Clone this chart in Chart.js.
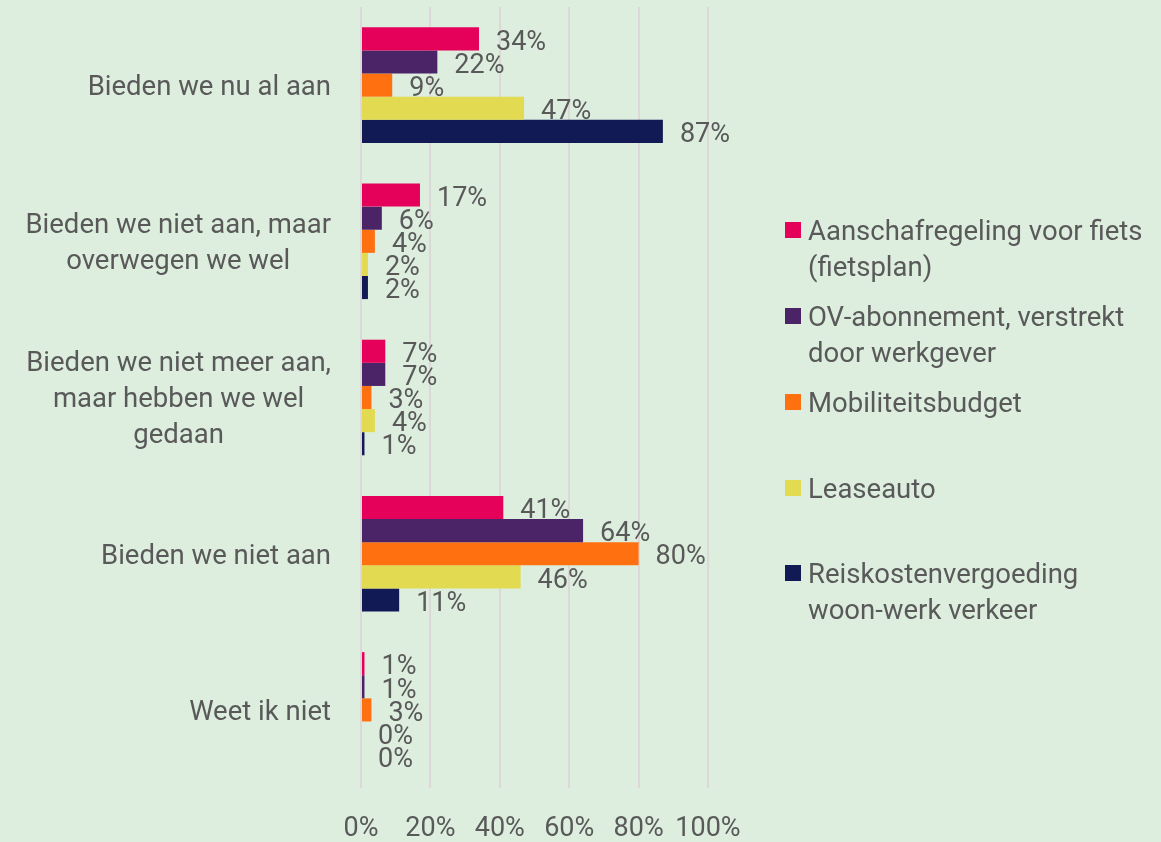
<!DOCTYPE html>
<html>
<head>
<meta charset="utf-8">
<script src="https://cdn.jsdelivr.net/npm/chart.js@4.4.1/dist/chart.umd.min.js"></script>
<style>
    html, body { margin: 0; padding: 0; background: #ddeedf; }
    #wrap { position: relative; width: 1161px; height: 842px; }
    #chart { position: absolute; left: 0; top: 0; }
    #legend { position: absolute; left: 785px; top: 0; font-family: Roboto, sans-serif; font-size: 27.5px; color: #595959; }
    .item { position: absolute; left: 0; width: 380px; }
    .box { position: absolute; left: 0; width: 16px; height: 16px; }
    .txt { position: absolute; left: 23px; line-height: 36px; white-space: nowrap; }
</style>
</head>
<body>
<div id="wrap">
    <canvas id="chart" width="1161" height="842"></canvas>
    <div id="legend"></div>
</div>
<script>
// --- Data ---
const categories = [
    ['Bieden we nu al aan'],
    ['Bieden we niet aan, maar', 'overwegen we wel'],
    ['Bieden we niet meer aan,', 'maar hebben we wel', 'gedaan'],
    ['Bieden we niet aan'],
    ['Weet ik niet']
];
const seriesNames = [
    ['Aanschafregeling voor fiets', '(fietsplan)'],
    ['OV-abonnement, verstrekt', 'door werkgever'],
    ['Mobiliteitsbudget'],
    ['Leaseauto'],
    ['Reiskostenvergoeding', 'woon-werk verkeer']
];
const fietsplan = [34, 17, 7, 41, 1];
const ovAbonnement = [22, 6, 7, 64, 1];
const mobiliteitsbudget = [9, 4, 3, 80, 3];
const leaseauto = [47, 2, 4, 46, 0];
const reiskosten = [87, 2, 1, 11, 0];
const xTicks = [0, 20, 40, 60, 80, 100];

const colors = ['#e5005a', '#4a2466', '#ff7010', '#e2da50', '#111a55'];
const values = [fietsplan, ovAbonnement, mobiliteitsbudget, leaseauto, reiskosten];
const textColor = '#595959';
const fontFamily = 'Roboto, sans-serif';

// --- Legend (HTML) ---
const legendTops = [213, 299, 385, 471, 556];
const legendEl = document.getElementById('legend');
seriesNames.forEach((name, i) => {
    const item = document.createElement('div');
    item.className = 'item';
    item.style.top = legendTops[i] + 'px';
    item.innerHTML = `<div class="box" style="top:9px;background:${colors[i]}"></div>` +
        `<div class="txt">${name.join('<br>')}</div>`;
    legendEl.appendChild(item);
});

// --- Plugins ---
// Category labels: block right-aligned, lines centered within block
const categoryLabels = {
    id: 'categoryLabels',
    afterDraw(chart) {
        const ctx = chart.ctx;
        const yScale = chart.scales.y;
        const rightEdge = 331;
        ctx.save();
        ctx.font = `27.5px ${fontFamily}`;
        ctx.fillStyle = textColor;
        ctx.textAlign = 'center';
        ctx.textBaseline = 'middle';
        categories.forEach((lines, i) => {
            const y = yScale.getPixelForValue(i) + 3;
            const maxW = Math.max(...lines.map(l => ctx.measureText(l).width));
            const cx = rightEdge - maxW / 2;
            const lh = 36;
            lines.forEach((l, j) => {
                ctx.fillText(l, cx, y + (j - (lines.length - 1) / 2) * lh);
            });
        });
        ctx.restore();
    }
};

// Value labels to the right of bars
const valueLabels = {
    id: 'valueLabels',
    afterDatasetsDraw(chart) {
        const ctx = chart.ctx;
        ctx.save();
        ctx.font = `27px ${fontFamily}`;
        ctx.fillStyle = textColor;
        ctx.textAlign = 'left';
        ctx.textBaseline = 'middle';
        chart.data.datasets.forEach((ds, di) => {
            chart.getDatasetMeta(di).data.forEach((bar, i) => {
                ctx.fillText(ds.data[i] + '%', bar.x + 17, bar.y + 4);
            });
        });
        ctx.restore();
    }
};

new Chart(document.getElementById('chart'), {
    type: 'bar',
    data: {
        labels: categories.map(c => c.join(' ')),
        datasets: values.map((v, i) => ({
            label: seriesNames[i].join(' '),
            data: v,
            backgroundColor: colors[i],
            borderWidth: 0,
            categoryPercentage: 0.74,
            barPercentage: 1
        }))
    },
    options: {
        indexAxis: 'y',
        responsive: false,
        animation: false,
        layout: { padding: { left: 361, right: 453, top: 7, bottom: 0 } },
        plugins: {
            legend: { display: false },
            tooltip: { enabled: false }
        },
        scales: {
            x: {
                min: 0,
                max: 100,
                afterBuildTicks: (scale) => { scale.ticks = xTicks.map(v => ({ value: v })); },
                afterFit: (scale) => { scale.height = 54; },
                grid: { color: '#dcd8d8', lineWidth: 2, drawTicks: false },
                border: { display: false },
                ticks: {
                    padding: 25,
                    color: textColor,
                    font: { family: fontFamily, size: 27 },
                    maxRotation: 0,
                    callback: (v) => v + '%'
                }
            },
            y: {
                display: false
            }
        }
    },
    plugins: [categoryLabels, valueLabels]
});
</script>
</body>
</html>
